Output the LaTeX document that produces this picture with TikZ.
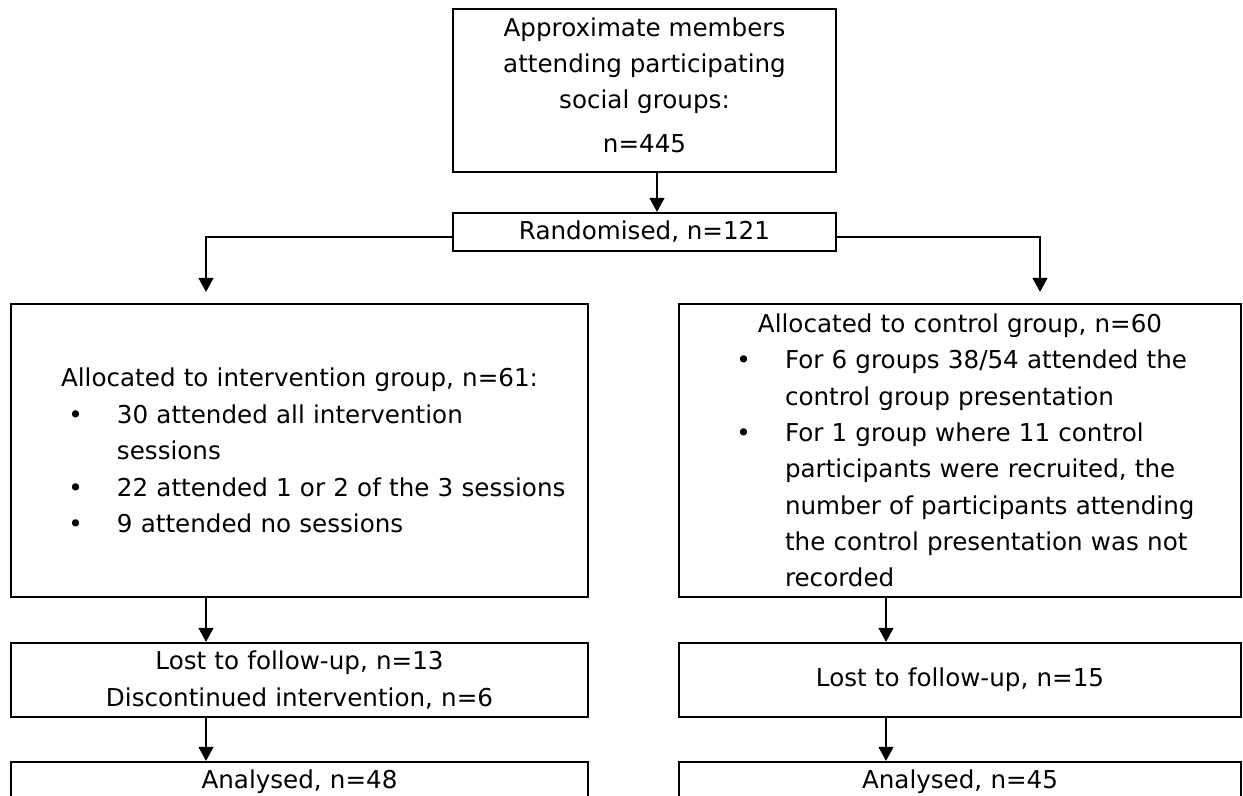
\documentclass[tikz,border=0pt]{standalone}
\usepackage{fontspec}
\setmainfont{DejaVu Sans}
\usetikzlibrary{arrows.meta}
\newenvironment{boxlist}{\begin{list}{\textbullet}{\setlength{\leftmargin}{2.12cm}\setlength{\labelsep}{0.68cm}\setlength{\labelwidth}{1cm}\setlength{\topsep}{0pt}\setlength{\partopsep}{0pt}\setlength{\itemsep}{0pt}\setlength{\parsep}{0pt}}}{\end{list}}

\begin{document}
\begin{tikzpicture}[
    box/.style={draw, line width=1.3pt, inner sep=0pt, font=\fontsize{14pt}{20.7pt}\selectfont},
    arr/.style={-{Triangle[width=0.3cm,length=0.28cm]}, line width=0.7pt}
]
\useasboundingbox (0,0) rectangle (24.86,-15.90);

% Enrolment
\node[box, align=center, minimum width=7.66cm, minimum height=3.26cm] (members) at (12.89,-1.81) {Approximate members\\attending participating\\social groups:\\[4pt]n=445\rule[-6.5pt]{0pt}{0pt}};
\node[box, minimum width=7.66cm, minimum height=0.76cm] (rand) at (12.89,-4.64) {Randomised, n=121};

% Allocation
\node[box, align=left, text width=11.54cm, minimum height=5.86cm] (int) at (5.99,-9.01) {{\centering Allocated to intervention group, n=61:\par}
\begin{boxlist}
\item 30 attended all intervention\newline sessions
\item 22 attended 1 or 2 of the 3 sessions
\item 9 attended no sessions
\end{boxlist}};
\node[box, align=left, text width=11.24cm, minimum height=5.86cm] (ctrl) at (19.20,-9.01) {{\centering Allocated to control group, n=60\par}
\begin{boxlist}
\item For 6 groups 38/54 attended the\newline control group presentation
\item For 1 group where 11 control\newline participants were recruited, the\newline number of participants attending\newline the control presentation was not\newline recorded
\end{boxlist}};

% Follow-up
\node[box, align=center, text width=11.54cm, minimum height=1.48cm] (lostL) at (5.99,-13.60) {Lost to follow-up, n=13\\Discontinued intervention, n=6};
\node[box, align=center, text width=11.24cm, minimum height=1.48cm] (lostR) at (19.20,-13.60) {Lost to follow-up, n=15};

% Analysis
\node[box, align=center, text width=11.54cm, minimum height=0.8cm] (anL) at (5.99,-15.64) {Analysed, n=48};
\node[box, align=center, text width=11.24cm, minimum height=0.8cm] (anR) at (19.20,-15.64) {Analysed, n=45};

% Arrows
\draw[arr] ([xshift=0.25cm]members.south) -- ([xshift=0.25cm]members.south |- rand.north);
\draw[arr, shorten >=0.22cm] ([yshift=-0.1cm]rand.west) -| ([xshift=-1.87cm]int.north);
\draw[arr, shorten >=0.22cm] ([yshift=-0.1cm]rand.east) -| ([xshift=1.6cm]ctrl.north);
\draw[arr] ([xshift=-1.87cm]int.south) -- ([xshift=-1.87cm]lostL.north);
\draw[arr] ([xshift=-1.48cm]ctrl.south) -- ([xshift=-1.48cm]lostR.north);
\draw[arr] ([xshift=-1.87cm]lostL.south) -- ([xshift=-1.87cm]anL.north);
\draw[arr] ([xshift=-1.48cm]lostR.south) -- ([xshift=-1.48cm]anR.north);
\end{tikzpicture}
\end{document}
